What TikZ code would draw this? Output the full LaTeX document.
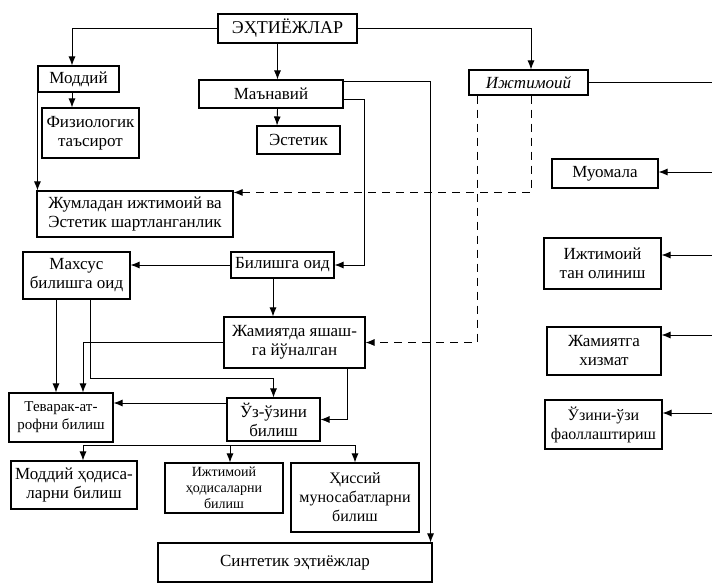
\documentclass[tikz,border=0pt]{standalone}
\usepackage{fontspec}
\setmainfont{Liberation Serif}
\usetikzlibrary{arrows.meta}

\begin{document}
\begin{tikzpicture}[x=1pt, y=1pt, >={Latex[length=9pt,width=7pt]},
    blok/.style={draw, line width=1.1pt, align=center, inner sep=1pt,
      font=\fontsize{17}{19}\selectfont},
    wh/.style 2 args={minimum width=#1, minimum height=#2},
    ul/.style={line width=.9pt},
    uz/.style={line width=.9pt, dash pattern=on 8pt off 6pt}]
\useasboundingbox (0,0) rectangle (712,-587);
% yuqori qator
\node[blok, wh={139}{29}, font=\fontsize{18}{20}\selectfont] (ehtiyoj) at (287.5,-28.5) {ЭҲТИЁЖЛАР};
\node[blok, wh={81}{26}] (moddiy) at (78.5,-79) {Моддий};
\node[blok, wh={97}{50}] (fiziol) at (90.5,-133) {Физиологик\\таъсирот};
\node[blok, wh={144}{28}] (manaviy) at (271,-94) {Маънавий};
\node[blok, wh={83}{28}] (estetik) at (298.5,-140) {Эстетик};
\node[blok, wh={119}{25}, font=\fontsize{17}{19}\selectfont\itshape] (ijtimoiy) at (528.5,-82.5) {Ижтимоий};
% o'rta qism
\node[blok, wh={196}{46}] (jumladan) at (135,-214) {Жумладан ижтимоий ва\\Эстетик шартланганлик};
\node[blok, wh={103}{26}] (bilish) at (282.5,-265) {Билишга оид};
\node[blok, wh={107}{47}] (mahsus) at (76.5,-275.5) {Махсус\\билишга оид};
\node[blok, wh={141}{51}] (jamiyat) at (294.5,-342.5) {Жамиятда яшаш-\\га йўналган};
\node[blok, wh={104}{49}, font=\fontsize{15}{18}\selectfont] (tevarak) at (61,-417.5) {Теварак-ат-\\рофни билиш};
\node[blok, wh={93}{43}] (uzuzini) at (273.5,-419.5) {Ўз-ўзини\\билиш};
% pastki qator
\node[blok, wh={126}{48}] (moddiyhod) at (74,-485) {Моддий ҳодиса-\\ларни билиш};
\node[blok, wh={118}{50}, font=\fontsize{14}{16}\selectfont] (ijthod) at (224,-488) {Ижтимоий\\ҳодисаларни\\билиш};
\node[blok, wh={128}{69}, font=\fontsize{16}{19}\selectfont] (hissiy) at (355,-497.5) {Ҳиссий\\муносабатларни\\билиш};
\node[blok, wh={274}{39}] (sintetik) at (295,-562.5) {Синтетик эҳтиёжлар};
% o'ng ustun
\node[blok, wh={106}{29}] (muomala) at (605,-173.5) {Муомала};
\node[blok, wh={117}{51}] (tan) at (602.5,-263.5) {Ижтимоий\\тан олиниш};
\node[blok, wh={114}{48}] (xizmat) at (604,-351) {Жамиятга\\хизмат};
\node[blok, wh={117}{49}, font=\fontsize{16}{19}\selectfont] (faol) at (603.5,-424.5) {Ўзини-ўзи\\фаоллаштириш};

\coordinate (busL) at (83,-445);
\coordinate (busM) at (230,-445);
\coordinate (busR) at (355,-445);

% bog'lanishlar
\draw[ul,->] (ehtiyoj.west) -| ([xshift=-6.5]moddiy.north);
\draw[ul,->] ([xshift=-10]ehtiyoj.south) -- ([xshift=6.5]manaviy.north);
\draw[ul,->] (ehtiyoj.east) -| ([xshift=2.5]ijtimoiy.north);
\draw[ul,->] ([xshift=-6.5]moddiy.south) -- ([xshift=-18.5]fiziol.north);
\draw[ul,->] (moddiy.south west) -- (moddiy.south west |- jumladan.north);
\draw[ul,->] ([xshift=6.5]manaviy.south) -- ([xshift=-21.5]estetik.north);
\draw[ul,->] ([yshift=-2]manaviy.north east) -| ([xshift=-2]sintetik.north east);
\draw[ul,->] ([yshift=-5]manaviy.east) -- ++(21,0) |- (bilish.east);
\draw[uz,->] ([xshift=2.5]ijtimoiy.south) |- ([yshift=-2]jumladan.north east);
\draw[uz,->] ([xshift=-51.5]ijtimoiy.south) |- (jamiyat.east);
\draw[ul,->] (bilish.west) -- (bilish.west -| mahsus.east);
\draw[ul,->] ([xshift=-9.5]bilish.south) -- ([xshift=-21.5]jamiyat.north);
\draw[ul,->] ([xshift=-20.5]mahsus.south) -- ([xshift=-5]tevarak.north);
\draw[ul,->] ([xshift=13.5]mahsus.south) -- ++(0,-79) -| (uzuzini.north);
\draw[ul,->] (jamiyat.west) -| ([xshift=22]tevarak.north);
\draw[ul,->] ([xshift=52.5]jamiyat.south) |- (uzuzini.east);
\draw[ul,->] ([yshift=16.5]uzuzini.west) -- ([yshift=14.5]tevarak.east);
\draw[ul] (busL) -- (busR);
\draw[ul,->] (busL) -- ([xshift=9]moddiyhod.north);
\draw[ul,->] (busM) -- ([xshift=6]ijthod.north);
\draw[ul,->] (busR) -- (hissiy.north);
\draw[ul] (ijtimoiy.east) -- ++(124,0);
\draw[ul,<-] ([yshift=1.5]muomala.east) -- ++(54,0);
\draw[ul,<-] ([yshift=8.5]tan.east) -- ++(51,0);
\draw[ul,<-] ([yshift=16]xizmat.east) -- ++(51,0);
\draw[ul,<-] ([yshift=11.5]faol.east) -- ++(50,0);
\end{tikzpicture}
\end{document}
